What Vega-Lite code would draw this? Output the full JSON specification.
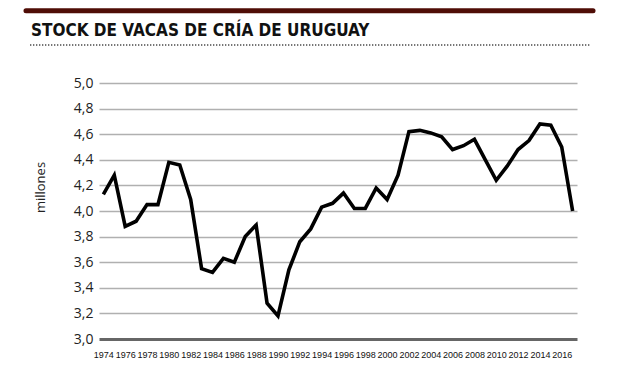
{
  "$schema": "https://vega.github.io/schema/vega-lite/v6.json",
  "width": 478,
  "height": 256,
  "autosize": "none",
  "padding": {"left": 99, "top": 83, "right": 43, "bottom": 36},
  "background": "white",
  "config": {"view": {"stroke": null}, "axis": {"labelOverlap": false}},
  "title": {
    "text": "STOCK DE VACAS DE CRÍA DE URUGUAY",
    "anchor": "start",
    "frame": "group",
    "font": "DejaVu Sans Condensed",
    "fontWeight": "bold",
    "fontSize": 17,
    "color": "#111111",
    "baseline": "alphabetic",
    "offset": -45,
    "dx": -68
  },
  "datasets": {
    "stock": [
      {"year": 1974, "value": 4.13},
      {"year": 1975, "value": 4.28},
      {"year": 1976, "value": 3.88},
      {"year": 1977, "value": 3.92},
      {"year": 1978, "value": 4.05},
      {"year": 1979, "value": 4.05},
      {"year": 1980, "value": 4.38},
      {"year": 1981, "value": 4.36},
      {"year": 1982, "value": 4.09},
      {"year": 1983, "value": 3.55},
      {"year": 1984, "value": 3.52},
      {"year": 1985, "value": 3.63},
      {"year": 1986, "value": 3.6},
      {"year": 1987, "value": 3.8},
      {"year": 1988, "value": 3.89},
      {"year": 1989, "value": 3.28},
      {"year": 1990, "value": 3.18},
      {"year": 1991, "value": 3.54},
      {"year": 1992, "value": 3.76},
      {"year": 1993, "value": 3.86},
      {"year": 1994, "value": 4.03},
      {"year": 1995, "value": 4.06},
      {"year": 1996, "value": 4.14},
      {"year": 1997, "value": 4.02},
      {"year": 1998, "value": 4.02},
      {"year": 1999, "value": 4.18},
      {"year": 2000, "value": 4.09},
      {"year": 2001, "value": 4.28},
      {"year": 2002, "value": 4.62},
      {"year": 2003, "value": 4.63},
      {"year": 2004, "value": 4.61},
      {"year": 2005, "value": 4.58},
      {"year": 2006, "value": 4.48},
      {"year": 2007, "value": 4.51},
      {"year": 2008, "value": 4.56},
      {"year": 2009, "value": 4.4},
      {"year": 2010, "value": 4.24},
      {"year": 2011, "value": 4.35},
      {"year": 2012, "value": 4.48},
      {"year": 2013, "value": 4.55},
      {"year": 2014, "value": 4.68},
      {"year": 2015, "value": 4.67},
      {"year": 2016, "value": 4.5},
      {"year": 2017, "value": 4.0}
    ],
    "decor": [
      {"kind": "bar", "year": 1966.91, "year2": 2018.87, "value": 5.565},
      {"kind": "dots", "year": 1967.28, "year2": 2018.59, "value": 5.297}
    ]
  },
  "encoding": {
    "x": {
      "field": "year",
      "type": "quantitative",
      "scale": {"domain": [1973.6, 2017.4], "nice": false, "zero": false},
      "axis": {
        "title": null,
        "values": [1974, 1976, 1978, 1980, 1982, 1984, 1986, 1988, 1990, 1992, 1994, 1996, 1998, 2000, 2002, 2004, 2006, 2008, 2010, 2012, 2014, 2016],
        "labelExpr": "'' + datum.value",
        "grid": false,
        "domain": false,
        "ticks": false,
        "labelPadding": 11,
        "labelFont": "Liberation Sans",
        "labelFontSize": 9,
        "labelColor": "#111111",
        "labelOverlap": false,
        "labelFlush": false
      }
    },
    "y": {
      "field": "value",
      "type": "quantitative",
      "scale": {"domain": [3, 5], "nice": false, "zero": false},
      "axis": {
        "title": "millones",
        "titleFont": "Open Sans",
        "titleFontSize": 13,
        "titleFontWeight": "normal",
        "titleColor": "#222222",
        "titleAngle": -90,
        "titleX": -59,
        "titleY": 104,
        "titleAlign": "center",
        "titleBaseline": "middle",
        "values": [3, 3.2, 3.4, 3.6, 3.8, 4, 4.2, 4.4, 4.6, 4.8, 5],
        "labelExpr": "replace(format(datum.value, '.1f'), '.', ',')",
        "labelFont": "Open Sans",
        "labelFontSize": 14,
        "labelColor": "#222222",
        "labelPadding": 6,
        "labelOverlap": false,
        "domain": false,
        "ticks": false,
        "grid": true,
        "gridColor": {"condition": {"test": "datum.value == 3", "value": "#666666"}, "value": "#b0b0b0"},
        "gridWidth": {"condition": {"test": "datum.value == 3", "value": 3}, "value": 1.6}
      }
    }
  },
  "layer": [
    {
      "data": {"name": "stock"},
      "mark": {"type": "line", "color": "#000000", "strokeWidth": 3.6, "strokeJoin": "miter", "clip": false}
    },
    {
      "data": {"name": "decor"},
      "transform": [{"filter": "datum.kind == 'bar'"}],
      "mark": {"type": "rule", "color": "#4f0d06", "strokeWidth": 5, "strokeCap": "round", "clip": false},
      "encoding": {"x2": {"field": "year2"}}
    },
    {
      "data": {"name": "decor"},
      "transform": [{"filter": "datum.kind == 'dots'"}],
      "mark": {"type": "rule", "color": "#444444", "strokeWidth": 1.5, "strokeDash": [1.3, 1.7], "clip": false},
      "encoding": {"x2": {"field": "year2"}}
    }
  ]
}
